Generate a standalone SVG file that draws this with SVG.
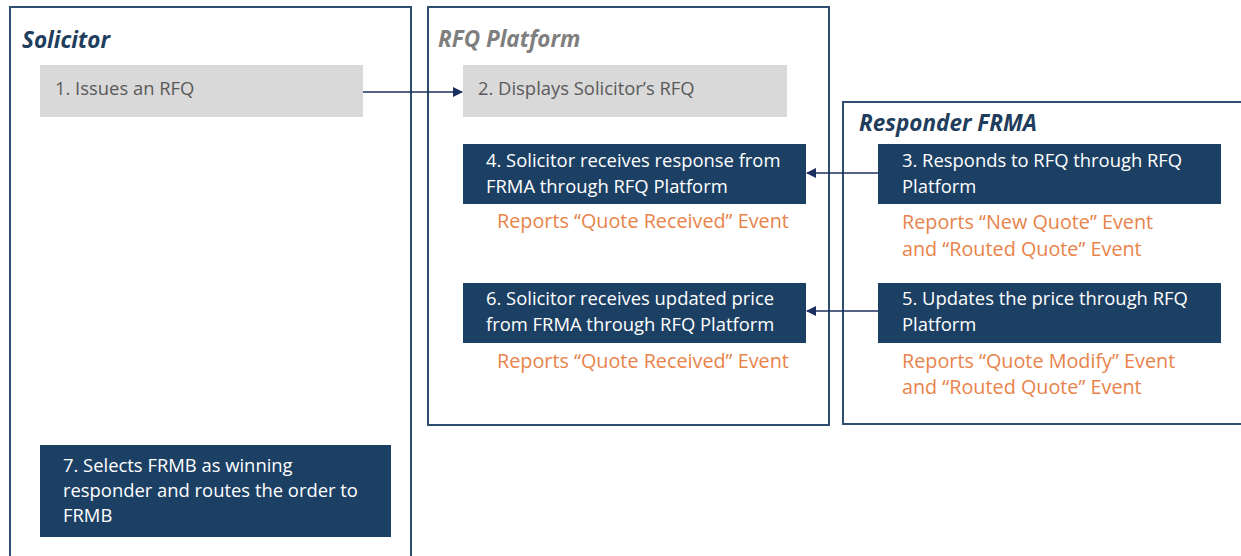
<svg xmlns="http://www.w3.org/2000/svg" width="1241" height="556" viewBox="0 0 1241 556">
<defs>
<marker id="ah" markerWidth="10" markerHeight="10" refX="9" refY="5" orient="auto" markerUnits="userSpaceOnUse">
<path d="M0,0 L10,5 L0,10 Z" fill="#1b2f5e"/>
</marker>
<style>
.lane{fill:#ffffff;stroke:#2e4e70;stroke-width:2}
.title{font-family:"Open Sans","Liberation Sans",Arial,sans-serif;font-size:22.5px;font-weight:bold;font-style:italic}
.gray{fill:#d9d9d9}
.dark{fill:#1c4064}
.gt{font-family:"Open Sans","Liberation Sans",Arial,sans-serif;font-size:18.4px;fill:#595959}
.wt{font-family:"Open Sans","Liberation Sans",Arial,sans-serif;font-size:18.4px;fill:#ffffff}
.ot{font-family:"Open Sans","Liberation Sans",Arial,sans-serif;font-size:19.8px;fill:#e8834a}
.conn{stroke:#1b2f5e;stroke-width:1.5;fill:none}
</style>
</defs>
<rect width="1241" height="556" fill="#ffffff"/>
<g id="lane-solicitor">
<rect class="lane" x="10" y="7" width="401" height="560"/>
<text class="title" x="22" y="48" fill="#1f3d5c">Solicitor</text>
</g>
<g id="lane-rfq">
<rect class="lane" x="428" y="7" width="401" height="418"/>
<text class="title" x="438" y="47" fill="#7f7f7f">RFQ Platform</text>
</g>
<g id="lane-frma">
<rect class="lane" x="843" y="102" width="410" height="322"/>
<text class="title" x="859" y="131" fill="#1f3d5c">Responder FRMA</text>
</g>
<g id="node1">
<rect class="gray" x="40" y="65" width="323" height="52"/>
<text class="gt" x="55" y="95">1. Issues an RFQ</text>
</g>
<g id="node2">
<rect class="gray" x="463" y="65" width="324" height="52"/>
<text class="gt" x="478" y="95">2. Displays Solicitor’s RFQ</text>
</g>
<g id="node3">
<rect class="dark" x="878" y="144" width="343" height="60"/>
<text class="wt" x="902" y="167">3. Responds to RFQ through RFQ</text>
<text class="wt" x="902" y="193">Platform</text>
<text class="ot" x="902" y="229">Reports “New Quote” Event</text>
<text class="ot" x="902" y="256">and “Routed Quote” Event</text>
</g>
<g id="node4">
<rect class="dark" x="463" y="144" width="343" height="60"/>
<text class="wt" x="486" y="167">4. Solicitor receives response from</text>
<text class="wt" x="486" y="193">FRMA through RFQ Platform</text>
<text class="ot" x="497" y="228">Reports “Quote Received” Event</text>
</g>
<g id="node5">
<rect class="dark" x="878" y="283" width="343" height="60"/>
<text class="wt" x="902" y="305">5. Updates the price through RFQ</text>
<text class="wt" x="902" y="331">Platform</text>
<text class="ot" x="902" y="368">Reports “Quote Modify” Event</text>
<text class="ot" x="902" y="394">and “Routed Quote” Event</text>
</g>
<g id="node6">
<rect class="dark" x="463" y="283" width="343" height="60"/>
<text class="wt" x="486" y="305">6. Solicitor receives updated price</text>
<text class="wt" x="486" y="331">from FRMA through RFQ Platform</text>
<text class="ot" x="497" y="368">Reports “Quote Received” Event</text>
</g>
<g id="node7">
<rect class="dark" x="40" y="445" width="351" height="92"/>
<text class="wt" x="63" y="472">7. Selects FRMB as winning</text>
<text class="wt" x="63" y="497">responder and routes the order to</text>
<text class="wt" x="63" y="522">FRMB</text>
</g>
<g id="connectors">
<line class="conn" x1="363" y1="92" x2="462" y2="92" marker-end="url(#ah)"/>
<line class="conn" x1="878" y1="173" x2="807" y2="173" marker-end="url(#ah)"/>
<line class="conn" x1="878" y1="311" x2="807" y2="311" marker-end="url(#ah)"/>
</g>
</svg>
